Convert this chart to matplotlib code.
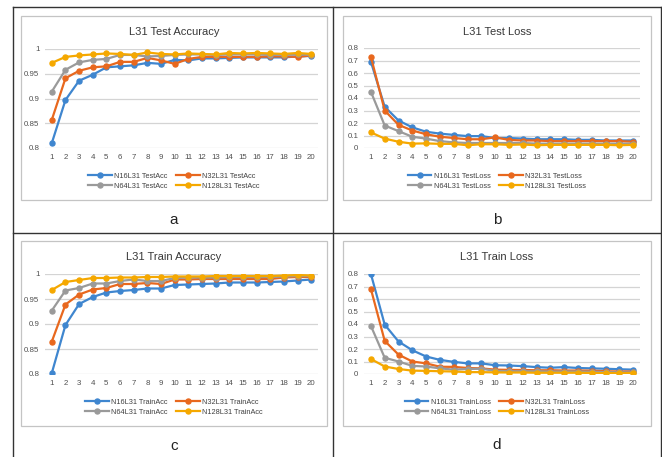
import numpy as np
import matplotlib
matplotlib.use('Agg')
import matplotlib.pyplot as plt
from matplotlib.patches import Rectangle
from matplotlib.lines import Line2D

plt.rcParams['font.family'] = ['Liberation Sans', 'DejaVu Sans']

epochs = list(range(1, 21))
names = ['N16L31', 'N32L31', 'N64L31', 'N128L31']
colors = ['#3F86CF', '#E8681E', '#9A9A9A', '#F5A800']

# a: test accuracy
test_acc = [
    [0.810, 0.897, 0.936, 0.948, 0.963, 0.965, 0.967, 0.972, 0.970, 0.978,
     0.977, 0.981, 0.981, 0.982, 0.983, 0.983, 0.983, 0.983, 0.985, 0.986],
    [0.857, 0.941, 0.956, 0.963, 0.965, 0.974, 0.974, 0.982, 0.977, 0.970,
     0.980, 0.984, 0.984, 0.984, 0.984, 0.984, 0.985, 0.985, 0.984, 0.987],
    [0.914, 0.958, 0.973, 0.978, 0.980, 0.988, 0.988, 0.985, 0.986, 0.988,
     0.989, 0.989, 0.988, 0.989, 0.989, 0.989, 0.988, 0.988, 0.989, 0.988],
    [0.972, 0.984, 0.987, 0.989, 0.991, 0.990, 0.988, 0.993, 0.990, 0.989,
     0.991, 0.990, 0.989, 0.992, 0.991, 0.992, 0.991, 0.990, 0.992, 0.990],
]
# b: test loss
test_loss = [
    [0.690, 0.330, 0.220, 0.165, 0.130, 0.115, 0.105, 0.095, 0.095, 0.080,
     0.080, 0.075, 0.070, 0.070, 0.070, 0.065, 0.065, 0.060, 0.060, 0.060],
    [0.730, 0.300, 0.185, 0.140, 0.110, 0.090, 0.080, 0.070, 0.070, 0.085,
     0.065, 0.060, 0.060, 0.055, 0.055, 0.055, 0.055, 0.055, 0.055, 0.050],
    [0.450, 0.180, 0.135, 0.090, 0.075, 0.055, 0.045, 0.040, 0.040, 0.040,
     0.040, 0.040, 0.035, 0.035, 0.035, 0.035, 0.035, 0.035, 0.035, 0.035],
    [0.125, 0.075, 0.050, 0.035, 0.037, 0.033, 0.033, 0.022, 0.030, 0.030,
     0.025, 0.028, 0.022, 0.025, 0.025, 0.025, 0.025, 0.025, 0.022, 0.025],
]
# c: train accuracy
train_acc = [
    [0.802, 0.898, 0.940, 0.954, 0.963, 0.966, 0.968, 0.971, 0.971, 0.978,
     0.979, 0.980, 0.981, 0.983, 0.983, 0.983, 0.984, 0.985, 0.987, 0.989],
    [0.865, 0.939, 0.959, 0.969, 0.972, 0.980, 0.980, 0.982, 0.980, 0.989,
     0.989, 0.990, 0.990, 0.990, 0.990, 0.990, 0.990, 0.993, 0.994, 0.994],
    [0.927, 0.967, 0.972, 0.981, 0.981, 0.986, 0.989, 0.986, 0.986, 0.992,
     0.993, 0.993, 0.993, 0.994, 0.994, 0.994, 0.994, 0.995, 0.996, 0.996],
    [0.968, 0.984, 0.988, 0.992, 0.992, 0.993, 0.993, 0.994, 0.994, 0.995,
     0.995, 0.995, 0.996, 0.996, 0.996, 0.996, 0.996, 0.997, 0.998, 0.997],
]
# d: train loss
train_loss = [
    [0.800, 0.395, 0.260, 0.190, 0.140, 0.113, 0.097, 0.085, 0.085, 0.070,
     0.068, 0.063, 0.055, 0.050, 0.055, 0.048, 0.045, 0.042, 0.038, 0.035],
    [0.680, 0.265, 0.155, 0.100, 0.085, 0.058, 0.057, 0.048, 0.045, 0.035,
     0.033, 0.032, 0.030, 0.030, 0.028, 0.028, 0.027, 0.022, 0.020, 0.020],
    [0.385, 0.130, 0.100, 0.065, 0.060, 0.045, 0.035, 0.040, 0.042, 0.025,
     0.022, 0.022, 0.022, 0.020, 0.020, 0.020, 0.018, 0.015, 0.013, 0.013],
    [0.120, 0.060, 0.040, 0.027, 0.025, 0.022, 0.020, 0.015, 0.015, 0.013,
     0.012, 0.012, 0.010, 0.010, 0.010, 0.010, 0.008, 0.008, 0.006, 0.008],
]

W, H = 662, 457
fig = plt.figure(figsize=(W / 100, H / 100), dpi=100)


def rect(x0, y0, x1, y1):
    # pixel box (top-down) -> figure fraction
    return [x0 / W, 1 - y1 / H, (x1 - x0) / W, (y1 - y0) / H]


def panel(box, plot, data, title, suffix, ylim, yticks, ylabels, letter, letter_y):
    bx0, by0, bx1, by1 = box
    fig.add_artist(Rectangle((bx0 / W, 1 - by1 / H), (bx1 - bx0) / W, (by1 - by0) / H,
                             transform=fig.transFigure, facecolor='white',
                             edgecolor='#C4C4C4', lw=0.9, zorder=0))
    ax = fig.add_axes(rect(*plot))
    ax.patch.set_alpha(0)
    handles = []
    for i in range(4):
        h, = ax.plot(epochs, data[i], color=colors[i], lw=1.6, marker='o', ms=3.6,
                     label=names[i] + ' ' + suffix, zorder=3 + i)
        handles.append(h)
    ax.set_xlim(0.5, 20.5)
    ax.set_ylim(*ylim)
    ax.set_xticks(epochs)
    ax.set_xticklabels([str(e) for e in epochs])
    ax.set_yticks(yticks)
    ax.set_yticklabels(ylabels)
    ax.grid(axis='y', color='#D4D4D4', lw=0.9)
    ax.set_axisbelow(True)
    for s in ax.spines.values():
        s.set_visible(False)
    ax.tick_params(length=0, labelsize=5.7, colors='#505050', pad=4)
    cx = (bx0 + bx1) / 2
    fig.text(cx / W, 1 - (by0 + 16) / H, title, ha='center', va='center',
             fontsize=8, color='#383838')
    order = [0, 2, 1, 3]
    fig.legend([handles[k] for k in order], [handles[k].get_label() for k in order],
               loc='center', bbox_to_anchor=(cx / W, 1 - (by1 - 19) / H), ncol=2,
               frameon=False, fontsize=5.3, handlelength=3.2, columnspacing=1.2,
               handletextpad=0.3, labelspacing=0.4, labelcolor='#404040')
    fig.text(cx / W, 1 - letter_y / H, letter, ha='center', va='center',
             fontsize=11, color='#222222')


acc_ticks = [0.8, 0.85, 0.9, 0.95, 1.0]
acc_labels = ['0.8', '0.85', '0.9', '0.95', '1']
loss_ticks = [0, 0.1, 0.2, 0.3, 0.4, 0.5, 0.6, 0.7, 0.8]
loss_labels = ['0', '0.1', '0.2', '0.3', '0.4', '0.5', '0.6', '0.7', '0.8']

panel((21, 16, 327, 200), (45, 49, 318, 148), test_acc, 'L31 Test Accuracy', 'TestAcc',
      (0.8, 1.0), acc_ticks, acc_labels, 'a', 220)
panel((343, 16, 651, 200), (364, 48, 640, 148), test_loss, 'L31 Test Loss', 'TestLoss',
      (0, 0.8), loss_ticks, loss_labels, 'b', 220)
panel((21, 241, 327, 426), (45, 274, 318, 374), train_acc, 'L31 Train Accuracy', 'TrainAcc',
      (0.8, 1.0), acc_ticks, acc_labels, 'c', 446)
panel((343, 241, 651, 426), (364, 274, 640, 374), train_loss, 'L31 Train Loss', 'TrainLoss',
      (0, 0.8), loss_ticks, loss_labels, 'd', 445)

# table borders
lc = '#333333'
for (x0, y0, x1, y1) in [(13, 7, 661, 7), (13, 233, 661, 233), (13, 7, 13, 457),
                         (333, 7, 333, 457), (661, 7, 661, 457)]:
    fig.add_artist(Line2D([x0 / W, x1 / W], [1 - y0 / H, 1 - y1 / H],
                          transform=fig.transFigure, color=lc, lw=1.0))

fig.savefig('out.png', dpi=100)
